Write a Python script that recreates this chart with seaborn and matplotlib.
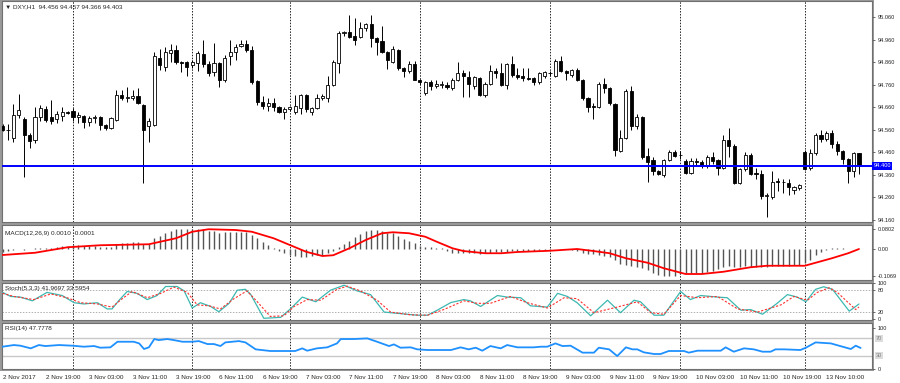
import matplotlib
matplotlib.use("Agg")
import matplotlib.pyplot as plt
import matplotlib.transforms as mtransforms
from matplotlib.patches import Rectangle
import numpy as np
import seaborn as sns

sns.set_style("white")
plt.rcParams["font.family"] = ["Liberation Sans", "DejaVu Sans"]

# ------------------ Dados ------------------ #

abertura = [
    94.578, 94.560, 94.524, 94.626, 94.608, 94.537, 94.515, 94.615, 94.650, 94.615,
    94.606, 94.620, 94.640, 94.645, 94.615, 94.620, 94.595, 94.610, 94.615, 94.580,
    94.570, 94.605, 94.715, 94.700, 94.700, 94.710, 94.670, 94.575, 94.580, 94.880,
    94.840, 94.900, 94.915, 94.860, 94.860, 94.845, 94.855, 94.895, 94.850, 94.815,
    94.855, 94.780, 94.885, 94.905, 94.930, 94.940, 94.915, 94.775, 94.685, 94.665,
    94.680, 94.662, 94.640, 94.650, 94.640, 94.655, 94.715, 94.640, 94.655, 94.700,
    94.700, 94.760, 94.855, 94.990, 94.995, 94.975, 94.970, 95.010, 95.030, 94.965,
    94.955, 94.905, 94.860, 94.915, 94.835, 94.820, 94.850, 94.780, 94.725, 94.770,
    94.755, 94.760, 94.760, 94.745, 94.780, 94.810, 94.795, 94.755, 94.790, 94.715,
    94.765, 94.820, 94.810, 94.760, 94.850, 94.805, 94.800, 94.790, 94.790, 94.770,
    94.800, 94.812, 94.800, 94.865, 94.820, 94.805, 94.825, 94.780, 94.700, 94.665,
    94.660, 94.765, 94.745, 94.675, 94.465, 94.525, 94.730, 94.575, 94.615, 94.445,
    94.425, 94.375, 94.360, 94.425, 94.460, 94.450, 94.420, 94.370, 94.420, 94.418,
    94.400, 94.440, 94.425, 94.390, 94.515, 94.490, 94.325, 94.385, 94.450, 94.370,
    94.365, 94.265, 94.260, 94.335, 94.330, 94.325, 94.295, 94.300, 94.460, 94.390,
    94.455, 94.535, 94.520, 94.545, 94.495, 94.465, 94.430, 94.375, 94.456,
]
maxima = [
    94.585, 94.585, 94.674, 94.718, 94.615, 94.545, 94.660, 94.670, 94.665, 94.690,
    94.645, 94.660, 94.645, 94.655, 94.640, 94.625, 94.620, 94.625, 94.620, 94.585,
    94.615, 94.735, 94.735, 94.750, 94.735, 94.745, 94.675, 94.610, 94.905, 94.920,
    94.925, 94.940, 94.935, 94.865, 94.865, 94.870, 94.910, 94.960, 94.865, 94.945,
    94.860, 94.890, 94.960, 94.940, 94.960, 94.960, 94.930, 94.780, 94.710, 94.700,
    94.700, 94.665, 94.660, 94.665, 94.715, 94.720, 94.720, 94.660, 94.720, 94.720,
    94.800, 94.870, 95.000, 95.000, 95.070, 95.055, 95.040, 95.035, 95.070, 94.970,
    95.020, 94.910, 94.930, 94.920, 94.840, 94.865, 94.865, 94.785, 94.775, 94.780,
    94.780, 94.775, 94.770, 94.790, 94.860, 94.825, 94.820, 94.800, 94.795, 94.770,
    94.845, 94.835, 94.855, 94.855, 94.885, 94.835, 94.835, 94.835, 94.795, 94.815,
    94.820, 94.820, 94.875, 94.885, 94.825, 94.830, 94.835, 94.785, 94.705, 94.680,
    94.770, 94.790, 94.750, 94.680, 94.560, 94.740, 94.755, 94.630, 94.620, 94.480,
    94.440, 94.380, 94.430, 94.470, 94.470, 94.465, 94.430, 94.435, 94.435, 94.425,
    94.450, 94.460, 94.430, 94.535, 94.570, 94.495, 94.390, 94.460, 94.455, 94.390,
    94.380, 94.280, 94.375, 94.345, 94.340, 94.340, 94.310, 94.320, 94.470, 94.475,
    94.545, 94.560, 94.555, 94.560, 94.510, 94.470, 94.435, 94.460, 94.457,
]
minimas = [
    94.555, 94.515, 94.506, 94.610, 94.350, 94.480, 94.500, 94.600, 94.595, 94.585,
    94.590, 94.600, 94.630, 94.600, 94.590, 94.570, 94.575, 94.590, 94.560, 94.560,
    94.565, 94.600, 94.690, 94.685, 94.690, 94.675, 94.325, 94.505, 94.575, 94.825,
    94.820, 94.860, 94.850, 94.815, 94.800, 94.835, 94.820, 94.840, 94.800, 94.800,
    94.750, 94.770, 94.845, 94.870, 94.925, 94.905, 94.765, 94.670, 94.650, 94.645,
    94.645, 94.635, 94.608, 94.645, 94.630, 94.630, 94.640, 94.625, 94.650, 94.690,
    94.685, 94.755, 94.810, 94.975, 94.965, 94.935, 94.965, 95.000, 94.925, 94.890,
    94.900, 94.830, 94.855, 94.825, 94.795, 94.810, 94.780, 94.760, 94.715, 94.735,
    94.745, 94.745, 94.740, 94.735, 94.775, 94.705, 94.705, 94.740, 94.710, 94.705,
    94.760, 94.790, 94.755, 94.740, 94.795, 94.785, 94.775, 94.780, 94.760, 94.765,
    94.790, 94.800, 94.795, 94.815, 94.780, 94.795, 94.775, 94.690, 94.640, 94.608,
    94.655, 94.725, 94.670, 94.445, 94.460, 94.520, 94.560, 94.565, 94.430, 94.330,
    94.360, 94.360, 94.350, 94.420, 94.440, 94.430, 94.365, 94.365, 94.400, 94.390,
    94.390, 94.410, 94.360, 94.385, 94.440, 94.320, 94.320, 94.375, 94.360, 94.340,
    94.255, 94.175, 94.255, 94.290, 94.280, 94.270, 94.275, 94.295, 94.380, 94.380,
    94.450, 94.505, 94.510, 94.480, 94.450, 94.410, 94.325, 94.350, 94.366,
]
fechamento = [
    94.560, 94.560, 94.626, 94.648, 94.537, 94.510, 94.617, 94.655, 94.605, 94.600,
    94.630, 94.640, 94.635, 94.615, 94.625, 94.595, 94.610, 94.615, 94.580, 94.570,
    94.610, 94.715, 94.700, 94.705, 94.710, 94.680, 94.560, 94.600, 94.887, 94.845,
    94.905, 94.915, 94.860, 94.855, 94.840, 94.862, 94.900, 94.850, 94.810, 94.855,
    94.780, 94.880, 94.905, 94.925, 94.940, 94.915, 94.770, 94.685, 94.665, 94.680,
    94.660, 94.640, 94.650, 94.660, 94.665, 94.715, 94.650, 94.655, 94.700, 94.710,
    94.760, 94.860, 94.990, 94.995, 94.970, 94.960, 95.010, 95.030, 94.965, 94.950,
    94.905, 94.870, 94.920, 94.835, 94.820, 94.850, 94.780, 94.770, 94.770, 94.755,
    94.765, 94.762, 94.750, 94.780, 94.810, 94.800, 94.765, 94.795, 94.715, 94.765,
    94.820, 94.810, 94.760, 94.850, 94.805, 94.795, 94.790, 94.785, 94.770, 94.810,
    94.815, 94.810, 94.865, 94.820, 94.812, 94.825, 94.780, 94.700, 94.660, 94.660,
    94.765, 94.745, 94.680, 94.470, 94.525, 94.730, 94.575, 94.615, 94.440, 94.415,
    94.375, 94.365, 94.425, 94.460, 94.445, 94.448, 94.370, 94.420, 94.415, 94.400,
    94.440, 94.420, 94.390, 94.515, 94.490, 94.325, 94.385, 94.450, 94.365, 94.365,
    94.265, 94.270, 94.330, 94.330, 94.328, 94.305, 94.305, 94.315, 94.385, 94.455,
    94.535, 94.520, 94.545, 94.495, 94.465, 94.430, 94.375, 94.455, 94.403,
]

macd_hist = [
    -0.012, -0.008, -0.003, -0.001, -0.004, -0.001, 0.003, 0.003, 0.005, 0.005,
    0.009, 0.012, 0.012, 0.015, 0.016, 0.013, 0.012, 0.012, 0.009, 0.007,
    0.009, 0.020, 0.023, 0.025, 0.027, 0.027, 0.020, 0.019, 0.043, 0.052,
    0.063, 0.073, 0.079, 0.080, 0.080, 0.080, 0.079, 0.080, 0.073, 0.072,
    0.065, 0.068, 0.069, 0.069, 0.069, 0.067, 0.056, 0.043, 0.028, 0.015,
    0.004, -0.007, -0.015, -0.024, -0.028, -0.031, -0.031, -0.028, -0.025, -0.023,
    -0.017, -0.007, 0.007, 0.020, 0.033, 0.047, 0.060, 0.073, 0.076, 0.076,
    0.072, 0.065, 0.063, 0.052, 0.039, 0.033, 0.023, 0.012, 0.007, 0.007,
    0.003, 0.003, -0.007, -0.017, -0.017, -0.017, -0.017, -0.017, -0.021, -0.017,
    -0.016, -0.011, -0.011, -0.011, -0.007, -0.007, -0.006, -0.006, -0.006, -0.005,
    -0.004, -0.003, 0.001, 0.002, 0.001, -0.002, -0.008, -0.017, -0.021, -0.021,
    -0.023, -0.026, -0.031, -0.044, -0.059, -0.062, -0.066, -0.070, -0.077, -0.084,
    -0.097, -0.104, -0.107, -0.107, -0.106, -0.098, -0.097, -0.097, -0.097, -0.095,
    -0.091, -0.086, -0.081, -0.071, -0.068, -0.071, -0.071, -0.068, -0.071, -0.071,
    -0.071, -0.071, -0.068, -0.068, -0.068, -0.067, -0.064, -0.064, -0.057, -0.044,
    -0.024, -0.011, -0.003, 0.003, 0.005, 0.003, 0.001, 0.001, 0.001,
]

sinal_barras = [0, 6, 12, 18, 27, 32, 35, 38, 43, 46, 50, 53, 56, 59, 61, 64, 67, 70,
                72, 75, 78, 80, 83, 85, 89, 92, 95, 101, 106, 109, 112, 115, 119, 122,
                126, 129, 133, 138, 141, 148, 150, 153, 156, 158]
sinal_valores = [-0.024, -0.015, 0.007, 0.015, 0.019, 0.043, 0.069, 0.079, 0.076, 0.069,
                 0.043, 0.016, -0.011, -0.028, -0.025, 0.003, 0.036, 0.063, 0.067, 0.063,
                 0.049, 0.030, 0.003, -0.008, -0.017, -0.017, -0.012, -0.007, 0.000, -0.008,
                 -0.017, -0.037, -0.055, -0.077, -0.100, -0.100, -0.091, -0.073, -0.067,
                 -0.067, -0.055, -0.037, -0.017, -0.0001]

stoch_barras = [0, 1.5, 3.3, 5.5, 8.2, 11.0, 13.2, 15.0, 17.5, 19.3, 20.2, 21.5, 23.0,
                24.8, 26.7, 28.5, 30.1, 32.2, 33.5, 35.0, 36.5, 38.4, 39.9, 41.8, 43.3,
                44.8, 45.8, 48.2, 51.3, 53.1, 55.3, 57.8, 60.5, 63.0, 65.4, 67.9, 70.4,
                73.4, 76.5, 78.4, 80.2, 82.7, 85.1, 86.3, 88.2, 91.3, 93.1, 95.6, 97.4,
                100.5, 102.4, 104.2, 106.0, 108.5, 111.6, 114.0, 116.5, 117.7, 120.2,
                122.0, 125.1, 126.9, 128.8, 131.9, 133.7, 136.2, 138.0, 140.2, 142.9,
                144.8, 146.6, 148.2, 150.0, 151.5, 153.1, 156.2, 158.0]
stoch_principal = [74.6, 63.2, 61.4, 50.9, 74.6, 65.8, 45.6, 42.1, 45.6, 28.1, 28.1,
                   52.6, 77.2, 71.9, 54.4, 65.8, 91.2, 91.2, 78.9, 30.7, 45.6, 35.1,
                   20.2, 43.9, 80.7, 83.3, 68.4, 1.8, 4.4, 28.1, 61.4, 48.2, 80.7, 94.7,
                   78.9, 68.4, 19.3, 14.9, 10.5, 10.5, 24.6, 46.0, 54.4, 50.9, 35.1,
                   65.8, 61.4, 59.6, 36.8, 33.3, 71.9, 63.2, 45.6, 8.8, 52.6, 17.5, 52.6,
                   48.2, 10.5, 10.5, 77.2, 54.4, 65.8, 61.4, 59.6, 24.6, 26.3, 13.2, 43.9,
                   68.4, 61.4, 48.2, 83.3, 90.4, 83.3, 21.9, 41.97]

stoch_sinal_barras = [0, 2.1, 5.8, 8.9, 11.9, 14.4, 17.5, 20.2, 22.1, 23.9, 26.7, 29.2,
                      31.6, 34.1, 35.9, 38.1, 40.2, 42.7, 45.1, 47.0, 49.4, 51.9, 53.8,
                      56.2, 58.7, 61.7, 63.6, 66.0, 69.1, 71.6, 75.3, 78.4, 81.4, 85.1,
                      87.6, 90.0, 93.7, 96.8, 100.5, 103.6, 106.0, 109.1, 113.4, 117.1,
                      119.6, 122.0, 125.1, 128.2, 131.9, 135.6, 139.3, 143.6, 146.0,
                      148.5, 150.3, 152.5, 154.0, 157.4, 158.0]
stoch_sinal = [71.9, 63.2, 54.4, 70.2, 59.6, 45.6, 42.1, 33.3, 57.0, 77.2, 59.6, 71.9,
               89.5, 74.6, 39.5, 36.8, 28.1, 57.0, 78.9, 48.2, 7.0, 8.8, 35.1, 54.4, 52.6,
               83.3, 92.1, 78.9, 52.6, 19.3, 11.4, 10.5, 26.3, 50.9, 43.9, 43.9, 63.2,
               45.6, 30.7, 59.6, 57.0, 17.5, 33.3, 48.2, 17.5, 13.2, 65.8, 59.6, 63.2,
               28.1, 19.3, 39.5, 63.2, 52.6, 74.6, 87.7, 74.6, 26.3, 33.6]

rsi_barras = [0, 2.1, 3.3, 5.2, 6.7, 7.9, 10.4, 12.9, 15.0, 16.9, 18.0, 19.9, 21.2, 24.2,
              25.2, 26.1, 27.0, 28.0, 28.8, 30.4, 31.6, 33.2, 35.0, 36.2, 37.8, 39.0,
              40.2, 41.1, 43.6, 44.8, 46.7, 49.4, 52.5, 54.0, 55.3, 56.2, 58.0, 59.9,
              61.7, 62.4, 64.8, 67.3, 69.1, 71.3, 72.2, 73.4, 75.3, 76.5, 78.4, 80.8,
              82.7, 84.5, 86.0, 87.3, 88.5, 90.0, 91.9, 93.1, 95.0, 98.0, 99.3, 100.5,
              102.0, 103.3, 104.8, 107.0, 109.1, 110.0, 111.9, 113.4, 115.0, 116.2,
              117.1, 118.3, 120.2, 121.4, 122.9, 125.7, 126.6, 128.2, 131.2, 132.5,
              133.4, 134.9, 136.8, 138.6, 140.2, 141.7, 142.6, 144.2, 147.2, 148.2,
              150.0, 150.9, 152.8, 154.3, 156.5, 157.4, 158.3]
rsi_valores = [50.7, 54.5, 53.0, 46.9, 54.5, 52.2, 54.5, 53.0, 50.7, 52.2, 48.4, 49.2,
               62.1, 62.1, 58.3, 45.4, 49.2, 68.3, 65.9, 68.3, 65.9, 62.1, 62.1, 63.6,
               56.8, 56.8, 52.2, 60.6, 63.6, 60.6, 44.6, 40.8, 40.8, 40.8, 46.9, 41.5,
               46.9, 49.2, 58.3, 68.3, 68.3, 69.8, 62.1, 52.2, 56.0, 48.4, 49.2, 44.6,
               43.1, 43.1, 43.0, 49.2, 44.6, 48.4, 41.5, 52.2, 46.9, 54.5, 49.2, 49.2,
               50.7, 50.7, 58.3, 52.2, 53.0, 37.0, 37.0, 48.4, 44.6, 29.2, 49.2, 44.6,
               44.6, 37.7, 33.9, 33.9, 40.8, 40.8, 37.0, 41.5, 41.5, 41.5, 49.2, 39.2,
               46.9, 44.6, 39.2, 39.2, 44.6, 44.6, 43.1, 48.4, 60.6, 59.8, 58.3, 53.0,
               45.4, 53.0, 47.8]

separadores = [13, 35, 53, 77, 101, 125, 148]
rotulos_barras = list(range(0, 153, 8))
rotulos_tempo = ["2 Nov 2017", "2 Nov 19:00", "3 Nov 03:00", "3 Nov 11:00", "3 Nov 19:00",
                 "6 Nov 11:00", "6 Nov 19:00", "7 Nov 03:00", "7 Nov 11:00", "7 Nov 19:00",
                 "8 Nov 03:00", "8 Nov 11:00", "8 Nov 19:00", "9 Nov 03:00", "9 Nov 11:00",
                 "9 Nov 19:00", "10 Nov 03:00", "10 Nov 11:00", "10 Nov 19:00", "13 Nov 10:00"]
precos_eixo = [95.060, 94.960, 94.860, 94.760, 94.660, 94.560, 94.460, 94.360, 94.260, 94.160]
linha_horizontal = 94.400

# ------------------ Layout ------------------ #

W, H = 900, 383
FS = 4.6       # texto geral (cabeçalhos, eixo do tempo)
FS_EIXO = 4.1  # números do eixo de preços
fig = plt.figure(figsize=(W / 100, H / 100), dpi=100)
fig.patch.set_facecolor("white")


def eixo_px(x0, y0, x1, y1):
    """Cria um eixo a partir de coordenadas em pixels (origem no topo)."""
    ax = fig.add_axes([x0 / W, 1 - y1 / H, (x1 - x0) / W, (y1 - y0) / H])
    ax.set_facecolor("white")
    for s in ax.spines.values():
        s.set_color("#707070")
        s.set_linewidth(0.8)
    return ax


fig.add_artist(Rectangle((0, 1 - 371 / H), 874 / W, 371 / H, transform=fig.transFigure,
                         facecolor="#9a9a9a", edgecolor="none", zorder=-5))

ax_main = eixo_px(2, 1, 872, 222)
ax_macd = eixo_px(2, 225, 872, 280)
ax_stoch = eixo_px(2, 283, 872, 320)
ax_rsi = eixo_px(2, 323, 872, 369)
eixos = [ax_main, ax_macd, ax_stoch, ax_rsi]

n = len(fechamento)
barras = np.arange(n)
x_lim = (-0.1, 160.4)

for ax in eixos:
    ax.set_xlim(*x_lim)
    ax.set_xticks([])
    ax.yaxis.tick_right()
    ax.tick_params(axis="y", which="both", length=2, width=0.6, pad=1.8,
                   labelsize=FS_EIXO, color="#555555", direction="out")
    for b in separadores:
        ax.axvline(b, color="#222222", lw=0.7, ls=(0, (1.5, 1.5)), zorder=1)

# ------------------ Candles ------------------ #
ab = np.array(abertura)
fe = np.array(fechamento)
mx = np.array(maxima)
mn = np.array(minimas)
alta = fe >= ab
ax_main.vlines(barras, mn, mx, color="black", lw=0.7, zorder=2)
ax_main.bar(barras[alta], (fe - ab)[alta], bottom=ab[alta], width=0.58,
            facecolor="white", edgecolor="black", linewidth=0.6, zorder=3)
ax_main.bar(barras[~alta], (ab - fe)[~alta], bottom=fe[~alta], width=0.58,
            facecolor="black", edgecolor="black", linewidth=0.6, zorder=3)

ax_main.axhline(linha_horizontal, color="#0000ff", lw=1.4, zorder=4)
ax_main.set_ylim(94.151, 95.131)
ax_main.set_yticks(precos_eixo)
ax_main.set_yticklabels([f"{p:.3f}" for p in precos_eixo])
trans = mtransforms.blended_transform_factory(ax_main.transAxes, ax_main.transData)
ax_main.text(1.002, linha_horizontal, f"{linha_horizontal:.3f}", transform=trans,
             fontsize=FS_EIXO, color="white", va="center", ha="left",
             bbox=dict(facecolor="#0000ff", edgecolor="none", pad=0.9), zorder=6)
ax_main.text(0.004, 0.985, "\u25BC DXY,H1  94.456 94.457 94.366 94.403",
             transform=ax_main.transAxes, fontsize=FS, va="top", ha="left")

# ------------------ MACD ------------------ #
ax_macd.vlines(barras, 0, macd_hist, color="#555555", lw=1.0, zorder=2)
sns.lineplot(x=sinal_barras, y=sinal_valores, ax=ax_macd, color="#ff0000", lw=1.3, zorder=3)
ax_macd.set_ylim(-0.124, 0.096)
ax_macd.set_yticks([0.0802, 0.0, -0.1069])
ax_macd.set_yticklabels(["0.0802", "0.00", "-0.1069"])
ax_macd.text(0.004, 0.9, "MACD(12,26,9) 0.0010 -0.0001", transform=ax_macd.transAxes,
             fontsize=FS, va="top", ha="left")

# ------------------ Estocástico ------------------ #
for nivel in (80, 20):
    ax_stoch.axhline(nivel, color="#b0b0b0", lw=0.7, ls=(0, (1.5, 1.5)), zorder=1)
sns.lineplot(x=stoch_barras, y=stoch_principal, ax=ax_stoch, color="#3cb8b0", lw=0.9, zorder=3)
sns.lineplot(x=stoch_sinal_barras, y=stoch_sinal, ax=ax_stoch, color="#ff3030", lw=0.8,
             linestyle=(0, (2, 1.5)), zorder=4)
ax_stoch.set_ylim(-3, 101)
ax_stoch.set_yticks([100, 80, 20, 0])
ax_stoch.set_yticklabels(["100", "80", "20", "0"])
ax_stoch.text(0.004, 0.93, "Stoch(5,3,3) 41.9697 33.5954", transform=ax_stoch.transAxes,
              fontsize=FS, va="top", ha="left")

# ------------------ RSI ------------------ #
for nivel in (70, 30):
    ax_rsi.axhline(nivel, color="#c8c8c8", lw=1.0, zorder=1)
sns.lineplot(x=rsi_barras, y=rsi_valores, ax=ax_rsi, color="#1e90ff", lw=1.3, zorder=3)
ax_rsi.set_ylim(-0.6, 105.2)
ax_rsi.set_yticks([93, 0])
ax_rsi.set_yticklabels(["100", "0"])
trans_rsi = mtransforms.blended_transform_factory(ax_rsi.transAxes, ax_rsi.transData)
for nivel in (70, 30):
    ax_rsi.text(1.004, nivel, str(nivel), transform=trans_rsi, fontsize=FS_EIXO,
                color="#808080", va="center", ha="left",
                bbox=dict(facecolor="#dcdcdc", edgecolor="none", pad=0.6))
ax_rsi.text(0.004, 0.93, "RSI(14) 47.7778", transform=ax_rsi.transAxes,
            fontsize=FS, va="top", ha="left")

ax_rsi.set_xticks(rotulos_barras)
ax_rsi.set_xticklabels(rotulos_tempo)
ax_rsi.tick_params(axis="x", length=2.5, width=0.6, pad=1.5, labelsize=FS,
                   color="#555555", direction="out")
for lbl in ax_rsi.get_xticklabels():
    lbl.set_ha("left")

for ax in eixos:
    ax.set_xlabel("")
    ax.set_ylabel("")

fig.savefig("out.png", dpi=100)
